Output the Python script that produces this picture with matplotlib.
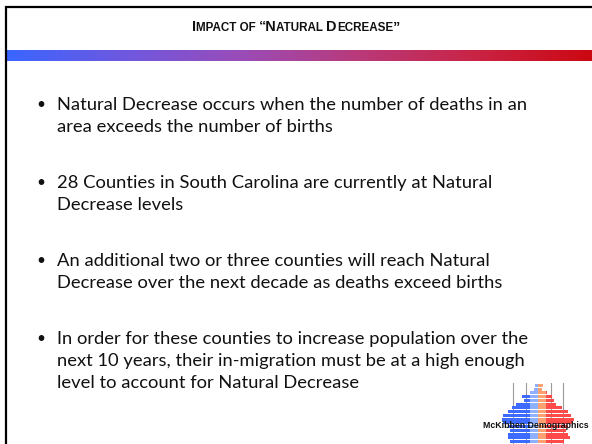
import matplotlib
matplotlib.use("Agg")
import matplotlib.pyplot as plt
import numpy as np
from matplotlib.colors import LinearSegmentedColormap

W, H, DPI = 592, 444, 100

title_parts = [("I", True), ("MPACT OF ", False), ("\u201cN", True), ("ATURAL ", False),
               ("D", True), ("ECREASE", False), ("\u201d", True)]

bullets = [
    ["Natural Decrease occurs when the number of deaths in an",
     "area exceeds the number of births"],
    ["28 Counties in South Carolina are currently at Natural",
     "Decrease levels"],
    ["An additional two or three counties will reach Natural",
     "Decrease over the next decade as deaths exceed births"],
    ["In order for these counties to increase population over the",
     "next 10 years, their in-migration must be at a high enough",
     "level to account for Natural Decrease"],
]

# logo pyramid (top to bottom), bar lengths left (male) and right (female)
pyr_left = [3, 4, 8, 16, 14, 22, 26, 30, 35, 36, 35, 30, 28, 30, 30, 28]
pyr_right = [5, 4, 9, 14, 16, 18, 24, 30, 33, 36, 34, 30, 28, 30, 32, 26]
logo_text = "McKibben Demographics"

FONT = "Lato"
BFONT = "Liberation Sans"

fig = plt.figure(figsize=(W / DPI, H / DPI), dpi=DPI)
ax = fig.add_axes([0, 0, 1, 1])
ax.set_xlim(0, W)
ax.set_ylim(H, 0)
ax.axis("off")

# borders
ax.plot([6, 6], [6, H], color="black", lw=1.6, solid_capstyle="butt")
ax.plot([5, W], [7, 7], color="black", lw=1.6, solid_capstyle="butt")

# gradient bar
cmap = LinearSegmentedColormap.from_list("g", ["#3a66ff", "#6e58e0", "#9a4cb8", "#b93a7a", "#c92445", "#cc0812"])
grad = np.linspace(0, 1, 256)[None, :]
ax.imshow(grad, cmap=cmap, aspect="auto", extent=[7, W, 61, 50], zorder=1)

fig.canvas.draw()
r = fig.canvas.get_renderer()

# title small caps, sized so it spans ~207 px
def build_title(big, small):
    ts = []
    tot = 0
    for s, b in title_parts:
        t = ax.text(0, 31, s, fontsize=big if b else small, fontweight="bold",
                    fontstyle="normal", family=BFONT, va="baseline", ha="left",
                    color="#111111")
        ts.append(t)
        tot += t.get_window_extent(r).width
    return ts, tot

ts, tot = build_title(10, 8)
k = 207 / tot
for t in ts:
    t.remove()
ts, tot = build_title(10 * k, 8 * k)
x = 296 - tot / 2
for t in ts:
    t.set_x(x)
    x += t.get_window_extent(r).width

# bullet text: size so that first line spans ~469 px
probe = ax.text(0, 0, bullets[0][0], fontsize=12, family=FONT)
wpx = probe.get_window_extent(r).width
probe.remove()
fs = 12 * 469 / wpx

y0 = [110, 188, 266, 344]
for y, lines in zip(y0, bullets):
    ax.text(36, y - 1, "\u2022", fontsize=fs * 0.85, family=FONT, va="baseline", ha="left", color="#111111")
    for i, line in enumerate(lines):
        ax.text(57, y + 22 * i, line, fontsize=fs, family=FONT, va="baseline", ha="left", color="#111111")

# logo
lax = fig.add_axes([500 / W, 0, 78 / W, (H - 383) / H])
n = len(pyr_left)
ys = np.arange(n)[::-1]
lax.set_xlim(-38, 40)
lax.set_ylim(-0.6, n - 0.4)
lax.axis("off")
for gx in (-25, -12.5, 12.5, 25):
    lax.axvline(gx, color="#9a9a9a", lw=0.8, zorder=0)
lax.barh(ys, [-v for v in pyr_left], height=0.8, color="#3d6bff", zorder=2)
lax.barh(ys, pyr_right, height=0.8, color="#ff4a4a", zorder=2)
lax.barh(ys, [-min(8, v) for v in pyr_left], height=0.8, color="#8eb0ff", zorder=3)
lax.barh(ys, [min(8, v) for v in pyr_right], height=0.8, color="#ffa070", zorder=3)

lt = ax.text(536, 425, logo_text, fontsize=7, fontweight="bold", fontstyle="normal",
             family=BFONT, ha="center", va="center", color="#111111", zorder=10)
lw = lt.get_window_extent(r).width
lt.set_fontsize(7 * 106 / lw)
ax.set_zorder(5)
ax.patch.set_visible(False)

fig.savefig("out.png", dpi=DPI)
